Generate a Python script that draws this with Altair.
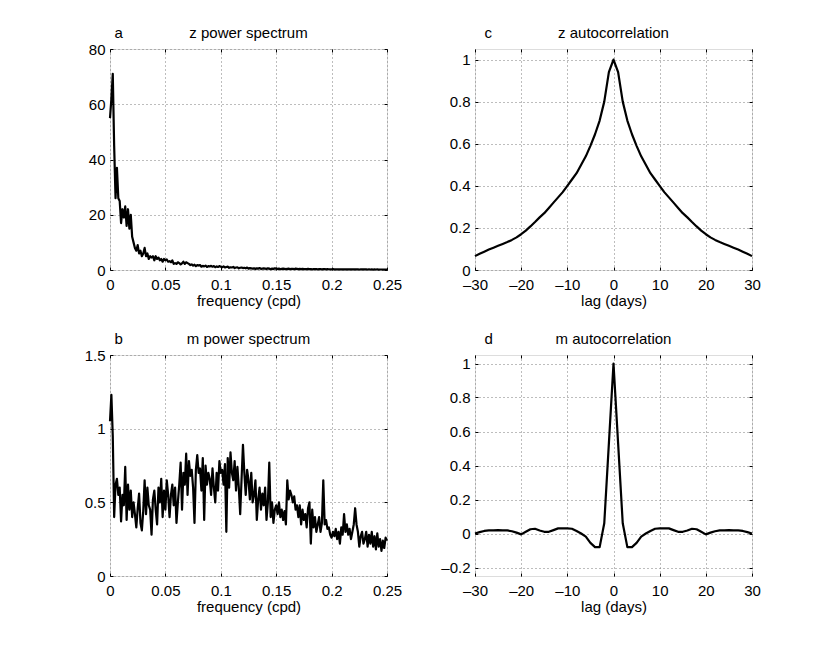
import altair as alt
import pandas as pd

FONT = "Liberation Sans"
FSTEP = 0.00125

# z power spectrum values (f = 0 .. 0.25, step 0.00125)
z_power = [
    55, 62, 71, 45, 26, 37, 26, 25,
    17, 22, 19, 23, 16, 22, 15, 20,
    12, 10, 8, 7, 9, 6, 7, 5,
    6, 8, 5, 6, 4, 5, 4.5, 5,
    3.5, 5, 4, 4.5, 3.5, 4, 3, 4,
    3.5, 3.8, 3, 3.2, 2.8, 3.5, 2.2, 2.5,
    2.2, 2.8, 2.5, 2.0, 2.4, 3.0, 2.2, 2.8,
    2.5, 2.2, 1.8, 2.0, 1.6, 1.9, 1.4, 1.8,
    1.6, 1.8, 1.2, 1.5, 1.3, 1.6, 1.1, 1.4,
    1.3, 1.5, 1.2, 1.4, 1.0, 1.3, 1.1, 1.4,
    1.2, 1.0, 1.3, 0.9, 1.1, 1.2, 0.8, 1.0,
    0.9, 1.1, 0.7, 0.9, 1.0, 0.6, 0.8, 0.9,
    0.7, 0.8, 0.6, 0.9, 0.5, 0.7, 0.6, 0.5,
    0.6, 0.4, 0.6, 0.5, 0.7, 0.4, 0.5, 0.6,
    0.5, 0.4, 0.6, 0.5, 0.3, 0.5, 0.4, 0.6,
    0.5, 0.4, 0.5, 0.3, 0.4, 0.5, 0.4, 0.3,
    0.4, 0.5, 0.3, 0.4, 0.4, 0.3, 0.5, 0.4,
    0.3, 0.4, 0.3, 0.4, 0.3, 0.35, 0.3, 0.4,
    0.3, 0.35, 0.25, 0.3, 0.35, 0.3, 0.25, 0.3,
    0.3, 0.25, 0.3, 0.35, 0.25, 0.3, 0.28, 0.25,
    0.28, 0.3, 0.25, 0.28, 0.22, 0.27, 0.25, 0.23,
    0.25, 0.22, 0.27, 0.2, 0.24, 0.22, 0.25, 0.2,
    0.22, 0.24, 0.2, 0.23, 0.19, 0.22, 0.2, 0.21,
    0.2, 0.22, 0.18, 0.21, 0.19, 0.2, 0.17, 0.2,
    0.19, 0.2, 0.17, 0.19, 0.18, 0.17, 0.19, 0.18,
    0.18,
]

# m power spectrum values (f = 0 .. 0.25, step 0.00125)
m_power = [
    1.05, 1.23, 0.95, 0.40, 0.62, 0.66, 0.55, 0.60,
    0.37, 0.55, 0.48, 0.74, 0.38, 0.62, 0.45, 0.58,
    0.40, 0.50, 0.42, 0.33, 0.46, 0.56, 0.36, 0.31,
    0.44, 0.65, 0.42, 0.60, 0.48, 0.45, 0.28, 0.52,
    0.58, 0.45, 0.35, 0.60, 0.50, 0.66, 0.40, 0.58,
    0.45, 0.65, 0.55, 0.40, 0.55, 0.62, 0.48, 0.60,
    0.36, 0.50, 0.62, 0.77, 0.45, 0.70, 0.62, 0.83,
    0.55, 0.78, 0.68, 0.72, 0.60, 0.36, 0.72, 0.82,
    0.70, 0.73, 0.58, 0.80, 0.38, 0.75, 0.62, 0.70,
    0.66, 0.55, 0.73, 0.60, 0.50, 0.70, 0.58, 0.78,
    0.70, 0.72, 0.62, 0.76, 0.30, 0.80, 0.60, 0.84,
    0.70, 0.65, 0.78, 0.58, 0.74, 0.60, 0.42, 0.66,
    0.89, 0.70, 0.55, 0.72, 0.65, 0.52, 0.70, 0.50,
    0.55, 0.65, 0.38, 0.52, 0.60, 0.45, 0.56, 0.48,
    0.60, 0.38, 0.50, 0.77, 0.40, 0.50, 0.36, 0.45,
    0.48, 0.42, 0.50, 0.40, 0.45, 0.38, 0.44, 0.35,
    0.65, 0.52, 0.58, 0.55, 0.50, 0.54, 0.45, 0.48,
    0.40, 0.48, 0.35, 0.45, 0.38, 0.42, 0.33, 0.46,
    0.50, 0.22, 0.45, 0.33, 0.40, 0.30, 0.35, 0.40,
    0.30, 0.36, 0.65, 0.35, 0.38, 0.32, 0.33, 0.28,
    0.26, 0.30, 0.27, 0.32, 0.25, 0.30, 0.22, 0.33,
    0.28, 0.42, 0.30, 0.35, 0.28, 0.32, 0.25, 0.30,
    0.35, 0.46, 0.35, 0.30, 0.20, 0.27, 0.30, 0.22,
    0.25, 0.30, 0.20, 0.28, 0.22, 0.30, 0.20, 0.27,
    0.18, 0.29, 0.20, 0.25, 0.17, 0.24, 0.19, 0.26,
    0.24,
]

# autocorrelations, lags 0..30 (symmetric about lag 0)
lags_pos = list(range(0, 31))
z_acf_pos = [1.0, 0.94, 0.80, 0.71, 0.645, 0.59, 0.54, 0.50, 0.46, 0.43,
             0.40, 0.37, 0.345, 0.32, 0.295, 0.27, 0.25, 0.228, 0.207, 0.187,
             0.17, 0.155, 0.143, 0.133, 0.124, 0.115, 0.106, 0.097, 0.087, 0.077,
             0.066]
m_acf_pos = [1.0, 0.53, 0.06, -0.08, -0.08, -0.055, -0.018, 0.0, 0.015, 0.028,
             0.03, 0.03, 0.03, 0.02, 0.01, 0.01, 0.018, 0.028, 0.025, 0.01,
             -0.005, 0.005, 0.013, 0.018, 0.018, 0.02, 0.018, 0.018, 0.015, 0.008,
             0.0]

x_ticks_f = [0, 0.05, 0.1, 0.15, 0.2, 0.25]
x_ticks_lag = [-30, -20, -10, 0, 10, 20, 30]
y_ticks_a = [0, 20, 40, 60, 80]
y_ticks_b = [0, 0.5, 1, 1.5]
y_ticks_c = [0, 0.2, 0.4, 0.6, 0.8, 1]
y_ticks_d = [-0.2, 0, 0.2, 0.4, 0.6, 0.8, 1]

freqs = [i * FSTEP for i in range(len(z_power))]
df_a = pd.DataFrame({"x": freqs, "y": z_power})
df_b = pd.DataFrame({"x": freqs, "y": m_power})
lags = [-l for l in reversed(lags_pos[1:])] + lags_pos
df_c = pd.DataFrame({"x": lags, "y": list(reversed(z_acf_pos[1:])) + z_acf_pos})
df_d = pd.DataFrame({"x": lags, "y": list(reversed(m_acf_pos[1:])) + m_acf_pos})

W, H = 277, 221
LABEL_EXPR = "replace('' + datum.value, '-', '\u2013')"


def main_axis(values, orient, title, pad):
    kw = dict(orient=orient, values=values, labelExpr=LABEL_EXPR, grid=True,
              gridDash=[1, 3], gridColor="#7a7a7a", gridWidth=1,
              domain=False, tickSize=3, tickColor="black", offset=-3,
              labelPadding=pad, labelFont=FONT, labelFontSize=15,
              labelColor="black", titleFont=FONT, titleFontSize=15,
              titleFontWeight="normal", titleColor="black", titlePadding=1,
              labelOverlap=False, labelFlush=False)
    if title:
        return alt.Axis(title=title, **kw)
    return alt.Axis(title=None, **kw)


def tick_axis(values, orient):
    return alt.Axis(orient=orient, values=values, labels=False, grid=False,
                    domain=False, tickSize=3, tickColor="black", offset=-3,
                    title=None)


def panel(df, xdom, ydom, xt, yt, xtitle, letter, title, letter_dx):
    base = alt.Chart(df)
    xs = alt.Scale(domain=xdom, nice=False, zero=False)
    ys = alt.Scale(domain=ydom, nice=False, zero=False)
    line = base.mark_line(color="black", strokeWidth=2.2, strokeJoin="round").encode(
        x=alt.X("x:Q", scale=xs, axis=main_axis(xt, "bottom", xtitle, 7)),
        y=alt.Y("y:Q", scale=ys, axis=main_axis(yt, "left", None, 5)),
    )
    ticks = base.mark_line(opacity=0).encode(
        x=alt.X("x:Q", scale=xs, axis=tick_axis(xt, "top")),
        y=alt.Y("y:Q", scale=ys, axis=tick_axis(yt, "right")),
    )
    lbl = alt.Chart(alt.Data(values=[{"t": letter}])).mark_text(
        font=FONT, fontSize=15, align="left", baseline="alphabetic", color="black"
    ).encode(text="t:N", x=alt.value(letter_dx), y=alt.value(-11))
    ttl = alt.Chart(alt.Data(values=[{"t": title}])).mark_text(
        font=FONT, fontSize=15, align="center", baseline="alphabetic", color="black"
    ).encode(text="t:N", x=alt.value(W / 2), y=alt.value(-11))
    return alt.layer(line, ticks, lbl, ttl).resolve_axis(
        x="independent", y="independent"
    ).properties(width=W, height=H)


pa = panel(df_a, [0, 0.25], [0, 80], x_ticks_f, y_ticks_a,
           "frequency (cpd)", "a", "z power spectrum", 4.5)
pc = panel(df_c, [-30, 30], [0, 1.05], x_ticks_lag, y_ticks_c,
           "lag (days)", "c", "z autocorrelation", 9.5)
pb = panel(df_b, [0, 0.25], [0, 1.5], x_ticks_f, y_ticks_b,
           "frequency (cpd)", "b", "m power spectrum", 4.5)
pd_ = panel(df_d, [-30, 30], [-0.25, 1.05], x_ticks_lag, y_ticks_d,
            "lag (days)", "d", "m autocorrelation", 9.5)

chart = alt.concat(pa, pc, pb, pd_, columns=2, bounds="flush",
                   spacing={"row": 85, "column": 88}).properties(
    padding={"left": 75, "top": 17, "right": 5, "bottom": 5}
).configure_view(stroke="#222222", strokeWidth=1).configure(background="white")

chart.save("out.html", embed_options={"renderer": "svg", "actions": False})
